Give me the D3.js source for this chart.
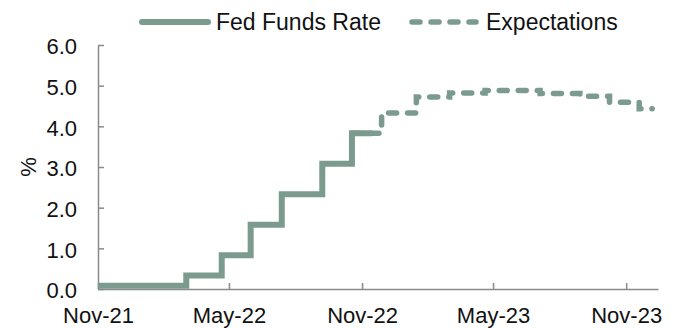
<!DOCTYPE html>
<html>
<head>
<meta charset="utf-8">
<script src="https://cdn.jsdelivr.net/npm/d3@7/dist/d3.min.js"></script>
<style>
  html, body { margin: 0; padding: 0; background: #fff; }
  svg { display: block; font-family: "Liberation Sans", Arial, sans-serif; }
</style>
</head>
<body>
<svg id="chart" width="674" height="328"></svg>
<script>
// series data (step changes, % per date)
var fedDates = ["2021-11-01", "2022-03-03", "2022-04-21", "2022-05-31", "2022-07-13", "2022-09-07", "2022-10-18", "2022-11-15"];
var fedValues = [0.08, 0.33, 0.83, 1.58, 2.33, 3.08, 3.83, 3.83];

var expDates = ["2022-10-18", "2022-11-28", "2023-01-15", "2023-03-02", "2023-04-20", "2023-07-05", "2023-08-29", "2023-10-09", "2023-11-19", "2023-12-07"];
var expValues = [3.83, 4.33, 4.72, 4.82, 4.88, 4.81, 4.74, 4.59, 4.43, 4.43];

var xTickDates = ["2021-11-01", "2022-05-01", "2022-11-01", "2023-05-01", "2023-11-01"];
var yTicks = [0, 1, 2, 3, 4, 5, 6];
var seriesNames = ["Fed Funds Rate", "Expectations"];

var parse = d3.timeParse("%Y-%m-%d");
var lineColor = "#7b9b8f", axisColor = "#8a8a8a";

var svg = d3.select("#chart");

var x = d3.scaleTime()
    .domain([parse("2021-11-01"), parse("2023-12-15")])
    .range([98, 658]);
var y = d3.scaleLinear()
    .domain([0, 6])
    .range([289, 45]);

function toPoints(dates, values) {
  return dates.map(function(d, i) { return { date: parse(d), value: values[i] }; });
}

var line = d3.line()
    .x(function(d) { return x(d.date); })
    .y(function(d) { return y(d.value); })
    .curve(d3.curveStepAfter);

// y axis, ticks pointing into the plot
var yAxis = svg.append("g")
    .attr("transform", "translate(" + x.range()[0] + ",0)")
    .call(d3.axisRight(y).tickValues(yTicks).tickSize(6).tickSizeOuter(0).tickFormat(d3.format(".1f")));
yAxis.select(".domain").attr("stroke", axisColor).attr("stroke-width", 1.5);
yAxis.selectAll(".tick line").attr("stroke", axisColor).attr("stroke-width", 1.5);
yAxis.selectAll(".tick text")
    .attr("x", -21).attr("dy", "0.4em")
    .attr("text-anchor", "end")
    .attr("font-size", 22).attr("fill", "#111")
    .attr("font-family", "Liberation Sans, Arial, sans-serif");

// x axis, ticks pointing up
var xAxis = svg.append("g")
    .attr("transform", "translate(0," + y.range()[0] + ")")
    .call(d3.axisBottom(x).tickValues(xTickDates.map(parse)).tickSize(-6).tickSizeOuter(0).tickFormat(d3.timeFormat("%b-%y")));
xAxis.select(".domain").attr("stroke", axisColor).attr("stroke-width", 1.5);
xAxis.selectAll(".tick line").attr("stroke", axisColor).attr("stroke-width", 1.5);
xAxis.selectAll(".tick text")
    .attr("y", 27).attr("dy", "0.32em")
    .attr("font-size", 22).attr("fill", "#111")
    .attr("font-family", "Liberation Sans, Arial, sans-serif");

svg.append("text")
    .attr("transform", "translate(36,167) rotate(-90)")
    .attr("text-anchor", "middle")
    .attr("font-size", 22).attr("fill", "#111")
    .text("%");

// lines
svg.append("path")
    .datum(toPoints(expDates, expValues))
    .attr("d", line)
    .attr("fill", "none")
    .attr("stroke", lineColor)
    .attr("stroke-width", 5.5)
    .attr("stroke-linecap", "round")
    .attr("stroke-dasharray", "8,11");

svg.append("path")
    .datum(toPoints(fedDates, fedValues))
    .attr("d", line)
    .attr("fill", "none")
    .attr("stroke", lineColor)
    .attr("stroke-width", 6);

// legend
var legend = svg.append("g");
legend.append("line")
    .attr("x1", 142).attr("x2", 208).attr("y1", 22).attr("y2", 22)
    .attr("stroke", lineColor).attr("stroke-width", 6).attr("stroke-linecap", "round");
legend.append("text")
    .attr("x", 216).attr("y", 30)
    .attr("font-size", 23).attr("fill", "#111")
    .text(seriesNames[0]);
legend.append("line")
    .attr("x1", 412).attr("x2", 476).attr("y1", 22).attr("y2", 22)
    .attr("stroke", lineColor).attr("stroke-width", 5.5).attr("stroke-linecap", "round")
    .attr("stroke-dasharray", "8,11");
legend.append("text")
    .attr("x", 486).attr("y", 30)
    .attr("font-size", 23).attr("fill", "#111")
    .text(seriesNames[1]);
</script>
</body>
</html>
